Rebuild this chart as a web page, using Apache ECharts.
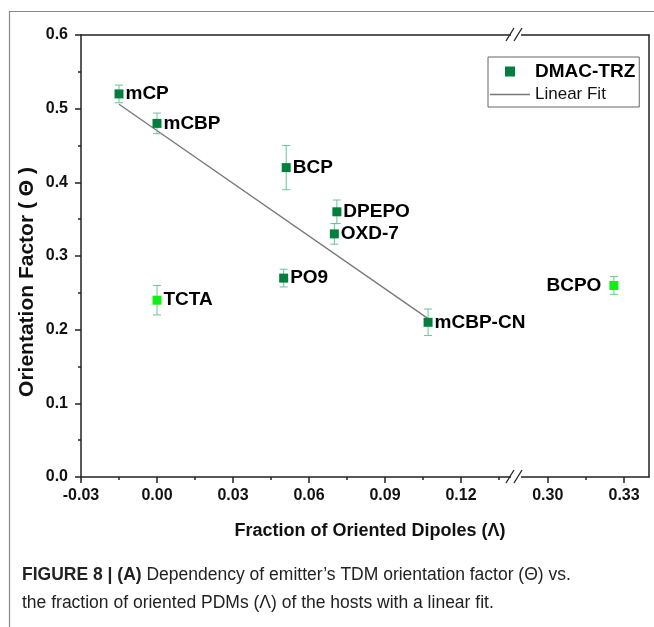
<!DOCTYPE html>
<html>
<head>
<meta charset="utf-8">
<title>Orientation factor vs fraction of oriented dipoles</title>
<script src="https://cdn.jsdelivr.net/npm/echarts@6.0.0/dist/echarts.min.js"></script>
<style>
  html, body { margin: 0; padding: 0; background: #fff; }
  #chart { width: 654px; height: 627px; }
</style>
</head>
<body>
<div id="chart"></div>
<script>
// values
var hostNames = ['mCP', 'mCBP', 'BCP', 'DPEPO', 'OXD-7', 'PO9', 'TCTA', 'mCBP-CN', 'BCPO'];
var fractionLambda = [-0.015, 0.0, 0.051, 0.071, 0.070, 0.050, 0.0, 0.107, 0.326];
var orientTheta = [0.52, 0.48, 0.42, 0.36, 0.33, 0.27, 0.24, 0.21, 0.26];
var thetaError = [0.012, 0.014, 0.03, 0.016, 0.014, 0.012, 0.02, 0.018, 0.012];
var offFitHosts = ['TCTA', 'BCPO'];   // drawn in bright green, not in the fit

// linear fit end points
var fitX = [-0.015, 0.107];
var fitY = [0.506, 0.215];

// axis ticks (x axis is broken between 0.14 and 0.29)
var leftMajor = [-0.03, 0.0, 0.03, 0.06, 0.09, 0.12];
var leftMinor = [-0.015, 0.015, 0.045, 0.075, 0.105, 0.135];
var rightMajor = [0.30, 0.33];
var rightMinor = [0.315];
var breakAt = 0.2;

var FONT = "'Liberation Sans', Arial, sans-serif";
var DARK = '#00803c';
var BRIGHT = '#12ee12';
var ERRC = '#6cc39a';
var AXC = '#222';

var chart = echarts.init(document.getElementById('chart'));

function pts(inRight) {
  var out = [], errs = [];
  for (var i = 0; i < hostNames.length; i++) {
    if ((fractionLambda[i] > breakAt) !== inRight) continue;
    var off = offFitHosts.indexOf(hostNames[i]) >= 0;
    out.push({
      name: hostNames[i],
      value: [fractionLambda[i], orientTheta[i]],
      itemStyle: { color: off ? BRIGHT : DARK, opacity: 1 },
      label: { position: inRight ? 'left' : 'right', distance: inRight ? 8 : 2 }
    });
    errs.push([fractionLambda[i], orientTheta[i] - thetaError[i], orientTheta[i] + thetaError[i]]);
  }
  return { pts: out, errs: errs };
}
var leftSet = pts(false);
var rightSet = pts(true);

function renderErr(params, api) {
  var lo = api.coord([api.value(0), api.value(1)]);
  var hi = api.coord([api.value(0), api.value(2)]);
  var c = 4;
  var st = { stroke: ERRC, lineWidth: 1 };
  return {
    type: 'group',
    children: [
      { type: 'line', shape: { x1: lo[0], y1: lo[1], x2: hi[0], y2: hi[1] }, style: st },
      { type: 'line', shape: { x1: lo[0] - c, y1: lo[1], x2: lo[0] + c, y2: lo[1] }, style: st },
      { type: 'line', shape: { x1: hi[0] - c, y1: hi[1], x2: hi[0] + c, y2: hi[1] }, style: st }
    ]
  };
}

var axLine = { show: true, onZero: false, lineStyle: { color: AXC, width: 1.5 } };
var lblStyle = { fontFamily: FONT, fontWeight: 'bold', fontSize: 16, color: '#111' };
var ptLabel = { show: true, formatter: '{b}', fontFamily: FONT, fontWeight: 'bold', fontSize: 19, color: '#000' };

function bottomAxis(grid, min, max, major) {
  return {
    type: 'value', gridIndex: grid, position: 'bottom', min: min, max: max,
    axisLine: axLine,
    axisTick: { show: true, customValues: major, length: 6, lineStyle: { color: AXC, width: 1.5 } },
    axisLabel: Object.assign({ customValues: major, margin: 11, formatter: function (v) { return v.toFixed(2); } }, lblStyle),
    splitLine: { show: false }
  };
}
function minorAxis(grid, min, max, minor) {
  return {
    type: 'value', gridIndex: grid, position: 'bottom', min: min, max: max,
    axisLine: { show: false, onZero: false },
    axisTick: { show: true, customValues: minor, length: 3, lineStyle: { color: AXC, width: 1.5 } },
    axisLabel: { show: false }, splitLine: { show: false }
  };
}
function topAxis(grid, min, max) {
  return {
    type: 'value', gridIndex: grid, position: 'top', min: min, max: max,
    axisLine: axLine, axisTick: { show: false }, axisLabel: { show: false }, splitLine: { show: false }
  };
}

var L0 = -0.03, L1 = 0.1421, R0 = 0.2879, R1 = 0.3398;

var option = {
  backgroundColor: '#fff',
  animation: false,
  grid: [
    { left: 81, top: 35, width: 436, height: 442 },
    { left: 517, top: 35, width: 132, height: 442 }
  ],
  legend: {
    orient: 'vertical', left: 488, top: 57,
    borderColor: '#666', borderWidth: 1, padding: [5, 4, 4, 2],
    itemWidth: 40, itemHeight: 10, itemGap: 5, selectedMode: false,
    symbolKeepAspect: true,
    textStyle: { fontFamily: FONT, color: '#111' },
    data: [
      { name: 'DMAC-TRZ', icon: 'path://M0,0L10,0L10,10L0,10Z', textStyle: { fontWeight: 'bold', fontSize: 19, color: '#000' } },
      { name: 'Linear Fit', icon: 'path://M0,0L40,0L40,1.3L0,1.3Z', textStyle: { fontSize: 17 } }
    ]
  },
  xAxis: [
    bottomAxis(0, L0, L1, leftMajor),
    minorAxis(0, L0, L1, leftMinor),
    topAxis(0, L0, L1),
    bottomAxis(1, R0, R1, rightMajor),
    minorAxis(1, R0, R1, rightMinor),
    topAxis(1, R0, R1)
  ],
  yAxis: [
    {
      type: 'value', gridIndex: 0, position: 'left', min: 0, max: 0.6, interval: 0.1,
      axisLine: axLine,
      axisTick: { show: true, length: 6, lineStyle: { color: AXC, width: 1.5 } },
      minorTick: { show: true, splitNumber: 2, length: 3, lineStyle: { color: AXC, width: 1.5 } },
      axisLabel: Object.assign({ margin: 13, formatter: function (v) { return v.toFixed(1); } }, lblStyle),
      splitLine: { show: false }
    },
    {
      type: 'value', gridIndex: 1, min: 0, max: 0.6,
      axisLine: { show: false }, axisTick: { show: false }, axisLabel: { show: false }, splitLine: { show: false }
    },
    {
      type: 'value', gridIndex: 1, position: 'right', min: 0, max: 0.6,
      axisLine: axLine, axisTick: { show: false }, axisLabel: { show: false }, splitLine: { show: false }
    }
  ],
  series: [
    {
      name: 'Linear Fit', type: 'line', xAxisIndex: 0, yAxisIndex: 0,
      data: [[fitX[0], fitY[0]], [fitX[1], fitY[1]]],
      symbol: 'none', lineStyle: { color: '#777', width: 1.3 }, itemStyle: { color: '#777' }, z: 2
    },
    {
      type: 'custom', xAxisIndex: 0, yAxisIndex: 0, renderItem: renderErr,
      data: leftSet.errs, encode: { x: 0, y: [1, 2] }, z: 3, silent: true
    },
    {
      name: 'DMAC-TRZ', type: 'scatter', xAxisIndex: 0, yAxisIndex: 0,
      symbol: 'rect', symbolSize: 9, data: leftSet.pts, z: 4,
      itemStyle: { color: DARK, opacity: 1 }, emphasis: { disabled: true },
      label: ptLabel
    },
    {
      type: 'custom', xAxisIndex: 3, yAxisIndex: 1, renderItem: renderErr,
      data: rightSet.errs, encode: { x: 0, y: [1, 2] }, z: 3, silent: true
    },
    {
      name: 'DMAC-TRZ', type: 'scatter', xAxisIndex: 3, yAxisIndex: 1,
      symbol: 'rect', symbolSize: 9, data: rightSet.pts, z: 4,
      itemStyle: { color: DARK, opacity: 1 }, emphasis: { disabled: true },
      label: ptLabel
    }
  ],
  graphic: [
    // outer figure frame
    { type: 'polyline', z: 100, shape: { points: [[9.5, 627], [9.5, 11.5], [654, 11.5]] }, style: { stroke: '#8a8a8a', lineWidth: 1.2, fill: null } },
    // axis break marks
    { type: 'rect', z: 100, shape: { x: 511, y: 29, width: 10, height: 11 }, style: { fill: '#fff' } },
    { type: 'line', z: 101, shape: { x1: 506, y1: 41, x2: 514, y2: 28 }, style: { stroke: AXC, lineWidth: 1.3 } },
    { type: 'line', z: 101, shape: { x1: 514, y1: 41, x2: 522, y2: 28 }, style: { stroke: AXC, lineWidth: 1.3 } },
    { type: 'rect', z: 100, shape: { x: 511, y: 471, width: 10, height: 11 }, style: { fill: '#fff' } },
    { type: 'line', z: 101, shape: { x1: 506, y1: 483, x2: 514, y2: 470 }, style: { stroke: AXC, lineWidth: 1.3 } },
    { type: 'line', z: 101, shape: { x1: 514, y1: 483, x2: 522, y2: 470 }, style: { stroke: AXC, lineWidth: 1.3 } },
    // axis titles
    {
      type: 'text', z: 100, x: 370, y: 531,
      style: { text: 'Fraction of Oriented Dipoles (\u039B)', font: 'bold 18px ' + FONT, fill: '#111', align: 'center', verticalAlign: 'middle' }
    },
    {
      type: 'text', z: 100, x: 27, y: 282, rotation: Math.PI / 2,
      style: { text: 'Orientation Factor ( \u0398 )', font: 'bold 21px ' + FONT, fill: '#111', align: 'center', verticalAlign: 'middle' }
    },
    // caption
    {
      type: 'text', z: 100, x: 22, y: 575,
      style: {
        text: '{b|FIGURE 8 | (A)} Dependency of emitter\u2019s TDM orientation factor (\u0398) vs.',
        font: "17.5px 'Liberation Sans', sans-serif", fill: '#222', verticalAlign: 'middle',
        rich: { b: { font: "bold 17.5px 'Liberation Sans', sans-serif", fill: '#222' } }
      }
    },
    {
      type: 'text', z: 100, x: 22, y: 603,
      style: {
        text: 'the fraction of oriented PDMs (\u039B) of the hosts with a linear fit.',
        font: "17.5px 'Liberation Sans', sans-serif", fill: '#222', verticalAlign: 'middle'
      }
    }
  ]
};

chart.setOption(option);
</script>
</body>
</html>
